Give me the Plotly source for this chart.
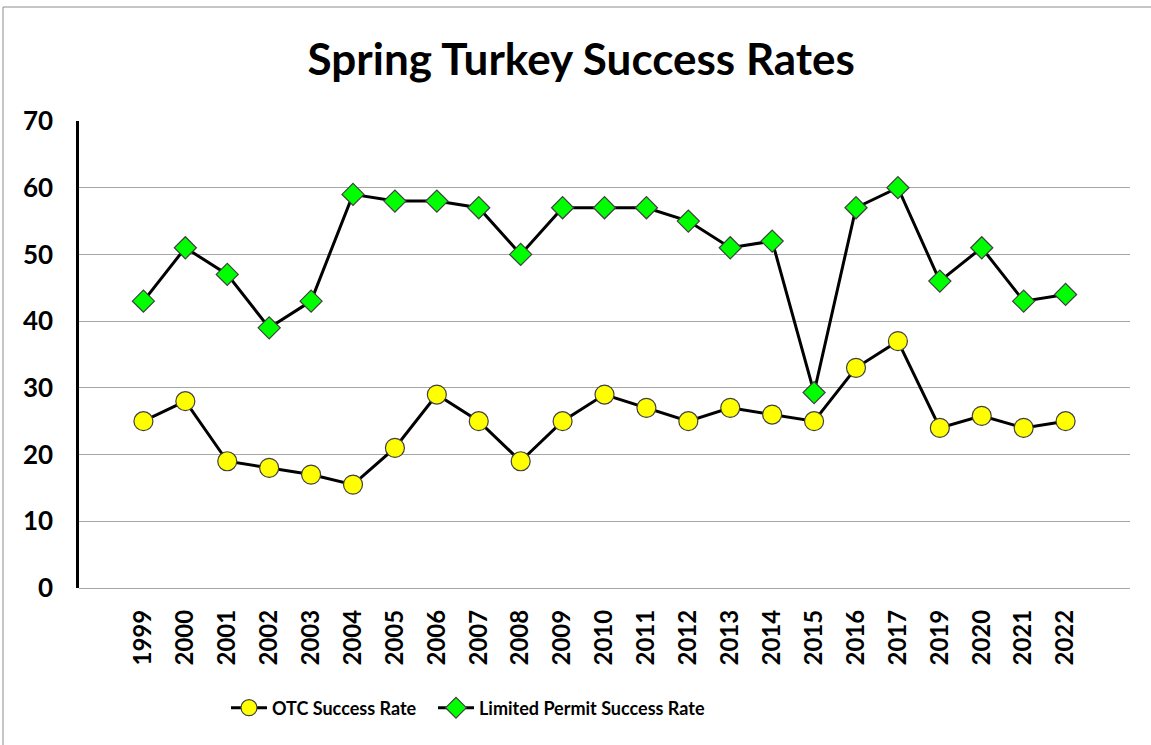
import plotly.graph_objects as go

years = ["1999", "2000", "2001", "2002", "2003", "2004", "2005", "2006", "2007", "2008",
         "2009", "2010", "2011", "2012", "2013", "2014", "2015", "2016", "2017", "2019",
         "2020", "2021", "2022"]
otc_rate = [25, 28, 19, 18, 17, 15.5, 21, 29, 25, 19,
            25, 29, 27, 25, 27, 26, 25, 33, 37, 24,
            25.8, 24, 25]
limited_rate = [43, 51, 47, 39, 43, 59, 58, 58, 57, 50,
                57, 57, 57, 55, 51, 52, 29.3, 57, 60, 46,
                51, 43, 44]

FONT = "Lato"

fig = go.Figure()
fig.add_trace(go.Scatter(
    x=years, y=otc_rate, name="OTC Success Rate", mode="lines+markers",
    line=dict(color="black", width=3), legend="legend",
    marker=dict(symbol="circle", size=19, color="#FFFF00",
                line=dict(color="#404040", width=1.2)),
))
fig.add_trace(go.Scatter(
    x=years, y=limited_rate, name="Limited Permit Success Rate", mode="lines+markers",
    line=dict(color="black", width=3), legend="legend2",
    marker=dict(symbol="diamond", size=17, color="#00FF00",
                line=dict(color="#404040", width=1.2)),
))

legend_common = dict(orientation="h", xanchor="left", y=(588 - 708) / 467, yanchor="middle",
                     font=dict(family=FONT, size=18, color="black", weight="bold"),
                     itemwidth=36, bgcolor="rgba(0,0,0,0)")

fig.update_layout(
    width=1151, height=745,
    margin=dict(l=79, r=21, t=121, b=157),
    paper_bgcolor="white", plot_bgcolor="white",
    font=dict(family=FONT, color="black"),
    title=dict(text="<b>Spring Turkey Success Rates</b>", x=0.505, xanchor="center",
               y=1 - 60 / 745, yanchor="middle", xref="container", yref="container",
               font=dict(family=FONT, size=44, color="black")),
    showlegend=True,
    legend=dict(x=(226 - 79) / 1051, **legend_common),
    legend2=dict(x=(433 - 79) / 1051, **legend_common),
    shapes=[dict(type="rect", xref="paper", yref="paper",
                 x0=(3 - 79) / 1051, x1=(1160 - 79) / 1051,
                 y0=(588 - 760) / 467, y1=(588 - 7) / 467,
                 line=dict(color="#8c8c8c", width=1), fillcolor="rgba(0,0,0,0)", layer="below")],
)

fig.update_xaxes(
    type="category", tickangle=-90, showgrid=False, showline=False, zeroline=False,
    tickfont=dict(family=FONT, size=24, color="black", weight="bold"),
    ticks="", ticklabelstandoff=16,
)
fig.update_yaxes(
    range=[0, 70], dtick=10, showgrid=True, gridcolor="#a6a6a6", gridwidth=1.3,
    showline=True, linecolor="black", linewidth=2.5, zeroline=True, zerolinecolor="#a6a6a6",
    zerolinewidth=1.3,
    tickfont=dict(family=FONT, size=26, color="black", weight="bold"),
    ticks="", ticklabelstandoff=18,
)

fig.write_html("out.html", config={"displayModeBar": False},
               post_script="document.body.style.margin='0';")
